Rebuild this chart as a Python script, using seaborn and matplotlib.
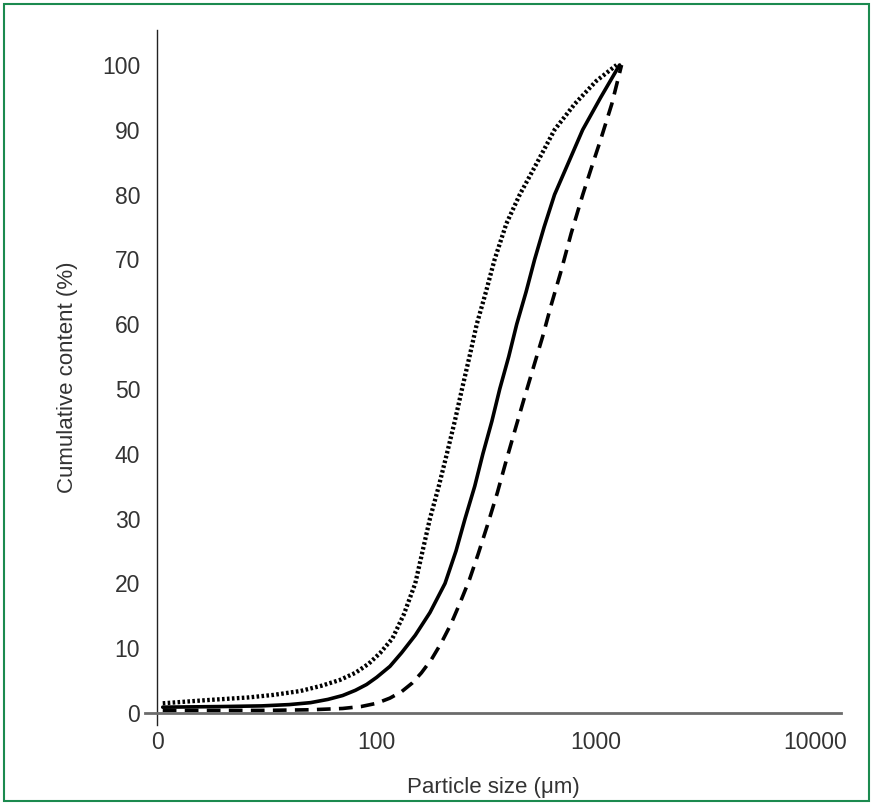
import numpy as np
import pandas as pd
import seaborn as sns
import matplotlib.pyplot as plt
from matplotlib.patches import Rectangle

# Curvas granulometricas acumuladas
size_fine = [10.6, 17, 26, 34, 45, 56, 68, 80, 92, 104, 118, 133, 150, 162, 175, 192, 209, 227, 245,
             265, 286, 315, 345, 390, 449, 540, 647, 800, 1000, 1240]
cum_fine = [1.5, 2.0, 2.4, 2.8, 3.4, 4.2, 5.1, 6.2, 7.6, 9.3, 11.5, 15.2, 20, 25, 30, 35, 40, 45, 50,
            55, 60, 65, 70, 75.5, 80, 85, 90, 94, 97.5, 100]

size_mid = [10.6, 20, 30, 40, 50, 60, 70, 80, 90, 100, 115, 130, 150, 175, 205, 230, 253, 280, 305,
            335, 364, 400, 435, 480, 525, 580, 647, 750, 869, 1050, 1280]
cum_mid = [0.9, 1.0, 1.1, 1.3, 1.6, 2.1, 2.7, 3.5, 4.4, 5.5, 7.2, 9.3, 12, 15.5, 20, 25, 30, 35, 40,
           45, 50, 55, 60, 65, 70, 75, 80, 85, 90, 95, 100]

size_coarse = [10.6, 30, 50, 70, 85, 100, 115, 130, 145, 160, 178, 197, 218, 240, 265, 290, 320, 355,
               390, 430, 470, 520, 570, 625, 690, 770, 870, 960, 1050, 1180, 1307]
cum_coarse = [0.4, 0.4, 0.5, 0.7, 1.0, 1.5, 2.3, 3.3, 4.6, 6.2, 8.3, 10.8, 13.7, 17, 20.6, 24.5, 29, 34,
              39, 44, 48.5, 53.5, 58, 63, 68, 74, 80, 84.5, 88.5, 94, 100]

x_ticks = [10, 100, 1000, 10000]
x_tick_labels = ['0', '100', '1000', '10000']
y_ticks = [0, 10, 20, 30, 40, 50, 60, 70, 80, 90, 100]

df = pd.concat([
    pd.DataFrame({'size': size_fine, 'cum': cum_fine, 'serie': 'fine'}),
    pd.DataFrame({'size': size_mid, 'cum': cum_mid, 'serie': 'mid'}),
    pd.DataFrame({'size': size_coarse, 'cum': cum_coarse, 'serie': 'coarse'}),
])

sns.set_style('white')
plt.rcParams['font.family'] = ['Liberation Sans', 'DejaVu Sans']

fig = plt.figure(figsize=(8.73, 8.11), dpi=100)
ax = fig.add_axes([145 / 873, 86 / 811, (841 - 145) / 873, (725 - 30) / 811])

sns.lineplot(data=df, x='size', y='cum', style='serie', color='black',
             dashes={'fine': (0.6, 0.55), 'mid': '', 'coarse': (3.8, 2.3)},
             linewidth=2.6, legend=False, sort=False, ax=ax)
for ln in ax.lines:
    ln.set_dash_capstyle('butt')
    ln.set_solid_joinstyle('round')
# la linea punteada es algo mas gruesa en el original
ax.lines[0].set_linewidth(3.1)

ax.set_xscale('log')
ax.set_xlim(8.8, 13070)
ax.set_ylim(-1.85, 105.4)

ax.spines['top'].set_visible(False)
ax.spines['right'].set_visible(False)
ax.spines['left'].set_position(('data', 10))
ax.spines['left'].set_color('#222222')
ax.spines['left'].set_linewidth(1.0)
ax.spines['bottom'].set_position(('data', 0))
ax.spines['bottom'].set_color('#6b6b6b')
ax.spines['bottom'].set_linewidth(2.0)

ax.set_xticks(x_ticks)
ax.set_xticklabels(x_tick_labels)
ax.xaxis.set_minor_locator(plt.NullLocator())
ax.set_yticks(y_ticks)
ax.tick_params(axis='both', length=0, labelsize=16.5, colors='#333333')
ax.tick_params(axis='x', pad=13.3)
ax.tick_params(axis='y', pad=12.2)

ax.set_xlabel('Particle size (μm)', fontsize=16, color='#333333', labelpad=16)
ax.set_ylabel('Cumulative content (%)', fontsize=16, color='#333333', labelpad=17)

fig.patches.append(Rectangle((4, 10), 865, 797, transform=None, fill=False,
                             edgecolor='#1b8a4f', linewidth=1.5))

fig.savefig('out.png', dpi=100)
